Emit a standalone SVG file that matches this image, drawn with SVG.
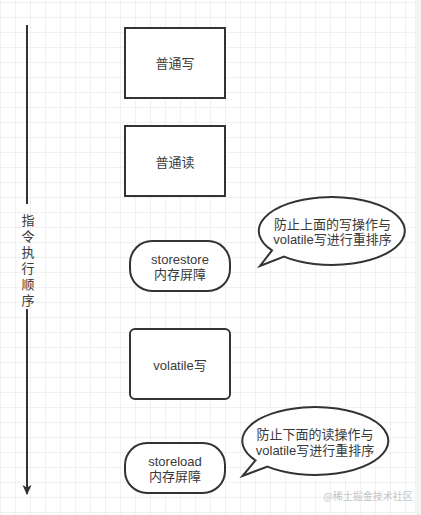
<svg xmlns="http://www.w3.org/2000/svg" width="421" height="515" viewBox="0 0 421 515">
  <defs>
    <pattern id="grid" x="0" y="2" width="15" height="15" patternUnits="userSpaceOnUse">
      <path d="M 15 0 L 0 0 0 15" fill="none" stroke="#e4e4e4" stroke-width="1"/>
    </pattern>
    <marker id="arrow" viewBox="0 0 10 10" refX="9" refY="5" markerWidth="10" markerHeight="13" markerUnits="userSpaceOnUse" orient="auto">
      <path d="M 0 0.5 L 10 5 L 0 9.5 L 2.5 5 Z" fill="#333"/>
    </marker>
    <style>
      .shape { fill: #ffffff; stroke: #333333; stroke-width: 2; }
      .txt { font-family: "Liberation Sans", "Noto Sans CJK SC", sans-serif; font-size: 13px; fill: #3a3a3a; text-anchor: middle; }
      .cjk { font-family: "Noto Sans CJK SC", sans-serif; font-size: 13px; fill: #3a3a3a; text-anchor: middle; }
      .vert { font-family: "Noto Sans CJK SC", sans-serif; font-size: 13px; fill: #3a3a3a; writing-mode: vertical-rl; letter-spacing: 3px; }
      .wm { font-family: "Noto Sans CJK SC", sans-serif; font-size: 10px; fill: #c4c4c4; text-anchor: middle; }
      .conn { fill: none; stroke: #333333; stroke-width: 2; }
    </style>
  </defs>
  <rect x="0" y="0" width="421" height="515" fill="#ffffff"/>
  <rect x="0" y="0" width="421" height="515" fill="url(#grid)"/>
  <rect x="415" y="0" width="6" height="515" fill="#f3f3f3"/>

  <g id="connectors">
    <line class="conn" x1="27" y1="25" x2="27" y2="204"/>
    <line class="conn" x1="27" y1="309" x2="27" y2="494" marker-end="url(#arrow)"/>
  </g>

  <g id="order-label">
    <text class="vert" x="28" y="214">指令执行顺序</text>
  </g>

  <g id="normal-write">
    <rect class="shape" x="125" y="28" width="100" height="70"/>
    <text class="cjk" x="175" y="67.5">普通写</text>
  </g>

  <g id="normal-read">
    <rect class="shape" x="125" y="126" width="100" height="70"/>
    <text class="cjk" x="175" y="166.5">普通读</text>
  </g>

  <g id="storestore">
    <rect class="shape" x="130" y="241" width="100" height="50" rx="22" ry="22"/>
    <text class="txt"><tspan x="180" y="264">storestore</tspan><tspan x="180" y="279">内存屏障</tspan></text>
  </g>

  <g id="volatile-write">
    <rect class="shape" x="130" y="329" width="100" height="70" rx="5" ry="5"/>
    <text class="txt" x="180" y="369.5">volatile写</text>
  </g>

  <g id="storeload">
    <rect class="shape" x="125" y="443" width="100" height="50" rx="22" ry="22"/>
    <text class="txt"><tspan x="175" y="465.5">storeload</tspan><tspan x="175" y="480.5">内存屏障</tspan></text>
  </g>

  <g id="callout-1">
    <path class="shape" d="M 272 250.4 L 260 266 L 284 256.6 A 73 34 0 1 0 272 250.4 Z"/>
    <text class="txt"><tspan x="332.5" y="228.5">防止上面的写操作与</tspan><tspan x="332.5" y="244">volatile写进行重排序</tspan></text>
  </g>

  <g id="callout-2">
    <path class="shape" d="M 255.5 460.4 L 242.5 476 L 267.5 466.6 A 73 34 0 1 0 255.5 460.4 Z"/>
    <text class="txt"><tspan x="315" y="438.5">防止下面的读操作与</tspan><tspan x="315" y="454.5">volatile写进行重排序</tspan></text>
  </g>

  <text class="wm" x="368" y="500">@稀土掘金技术社区</text>
</svg>
